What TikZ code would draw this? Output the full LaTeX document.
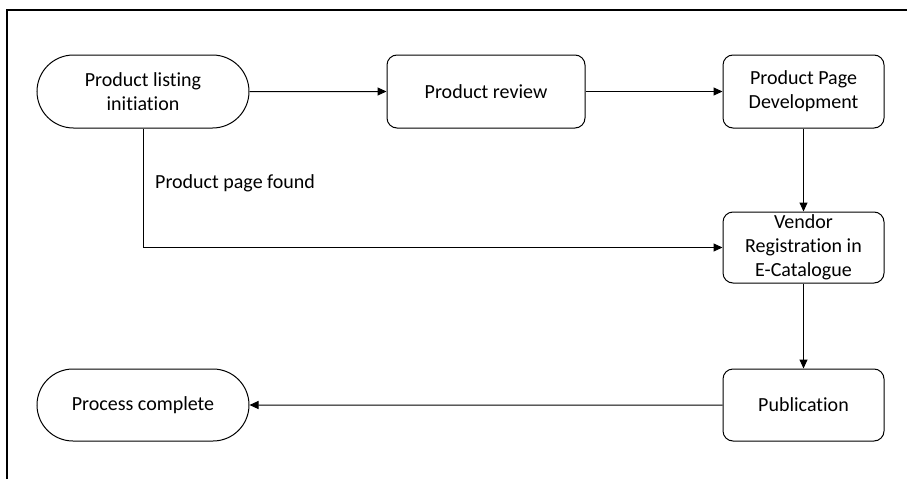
\documentclass[tikz,border=0pt]{standalone}
\usepackage{fontspec}
\setmainfont[Ligatures=NoCommon]{Carlito}
\usetikzlibrary{arrows.meta,shapes.misc}
\begin{document}
\begin{tikzpicture}[x=1pt,y=-1pt,
  txt/.style={font=\fontsize{20}{24}\selectfont},
  base/.style={txt, draw=black, line width=1pt, align=center, inner sep=0pt},
  stadium/.style={base, rounded rectangle, minimum width=212pt, minimum height=73pt},
  roundbox/.style={base, rounded corners=10pt, minimum height=73pt},
  conn/.style={line width=1pt, -{Triangle[length=9pt,width=8pt]}}]
\useasboundingbox (0,0) rectangle (907,479);
\draw[line width=1.6pt] (7,479) -- (7,10) -- (907,10);
\node[stadium] (init) at (143,91.5) {Product listing\\initiation};
\node[roundbox, minimum width=198pt] (review) at (486,91.5) {Product review};
\node[roundbox, minimum width=161pt] (dev) at (803.5,91.5) {Product Page\\Development};
\node[roundbox, minimum width=161pt, minimum height=71pt] (vendor) at (803.5,247.5) {Vendor\\Registration in\\E-Catalogue};
\node[roundbox, minimum width=161pt, minimum height=72pt] (pub) at (803.5,405) {Publication};
\node[stadium, minimum height=72pt] (done) at (143,405) {Process complete};
\node[txt, anchor=west, inner sep=0pt] (found) at (155,183) {Product page found};
\draw[conn] (init) -- (review);
\draw[conn] (review) -- (dev);
\draw[conn] (dev) -- (vendor);
\draw[conn] (init.south) |- (vendor.west);
\draw[conn] (vendor) -- (pub);
\draw[conn] (pub) -- (done);
\end{tikzpicture}
\end{document}
